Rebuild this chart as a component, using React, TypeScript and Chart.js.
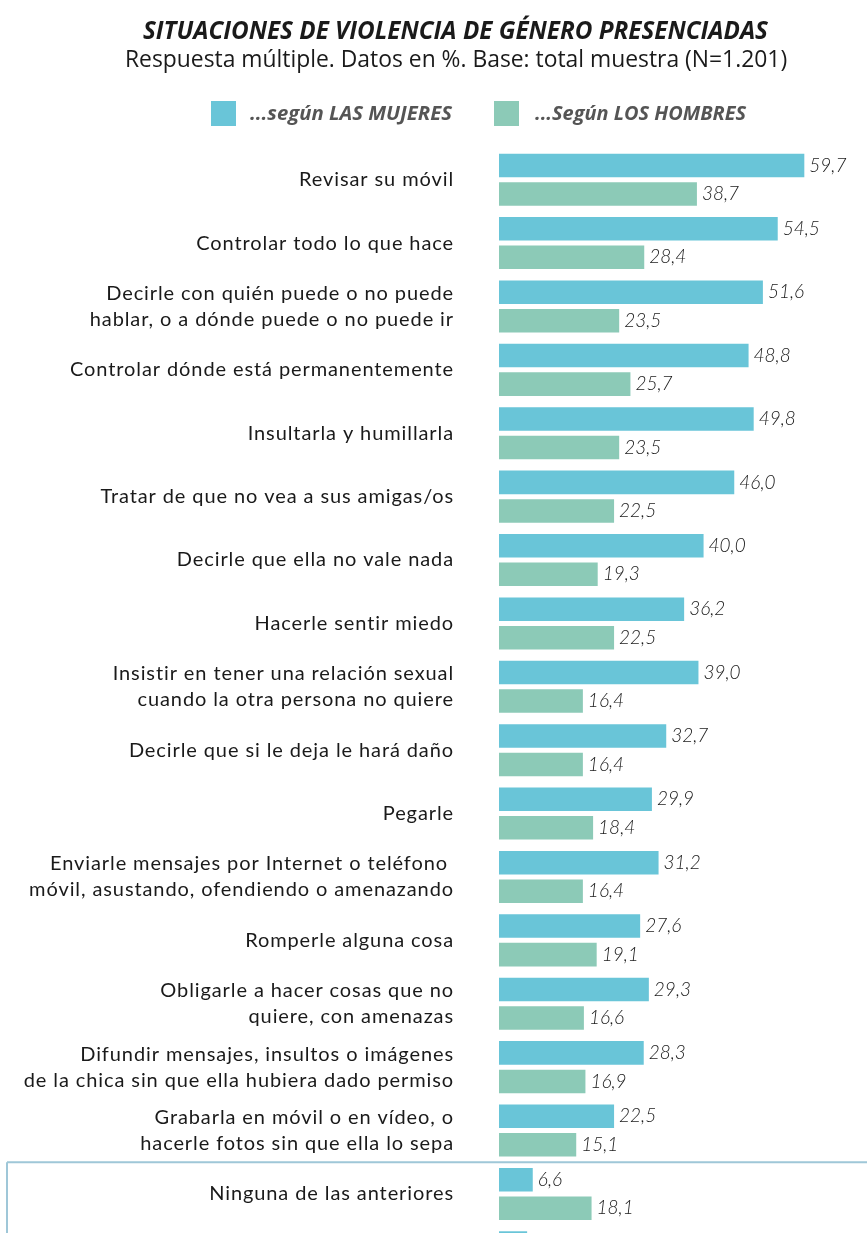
import { useEffect, useRef } from "react";
import { Chart, registerables } from "chart.js";
Chart.register(...registerables);

const titleText = "SITUACIONES DE VIOLENCIA DE GÉNERO PRESENCIADAS";
const subtitleText = "Respuesta múltiple. Datos en %. Base: total muestra (N=1.201)";
const seriesNames = ["...según LAS MUJERES", "...Según LOS HOMBRES"];

const categories: (string | string[])[] = [
  "Revisar su móvil",
  "Controlar todo lo que hace",
  ["Decirle con quién puede o no puede", "hablar, o a dónde puede o no puede ir"],
  "Controlar dónde está permanentemente",
  "Insultarla y humillarla",
  "Tratar de que no vea a sus amigas/os",
  "Decirle que ella no vale nada",
  "Hacerle sentir miedo",
  ["Insistir en tener una relación sexual", "cuando la otra persona no quiere"],
  "Decirle que si le deja le hará daño",
  "Pegarle",
  ["Enviarle mensajes por Internet o teléfono ", "móvil, asustando, ofendiendo o amenazando"],
  "Romperle alguna cosa",
  ["Obligarle a hacer cosas que no", "quiere, con amenazas"],
  ["Difundir mensajes, insultos o imágenes", "de la chica sin que ella hubiera dado permiso"],
  ["Grabarla en móvil o en vídeo, o", "hacerle fotos sin que ella lo sepa"],
  "Ninguna de las anteriores",
  "", // row cut off at the bottom edge of the picture
];

const mujeres: (number | null)[] = [59.7, 54.5, 51.6, 48.8, 49.8, 46.0, 40.0, 36.2, 39.0, 32.7, 29.9, 31.2, 27.6, 29.3, 28.3, 22.5, 6.6, 5.5];
const hombres: (number | null)[] = [38.7, 28.4, 23.5, 25.7, 23.5, 22.5, 19.3, 22.5, 16.4, 16.4, 18.4, 16.4, 19.1, 16.6, 16.9, 15.1, 18.1, null];

const xMax = 70;
const BLUE = "#69C5D8";
const GREEN = "#8CCAB7";
const FONT = "'Open Sans', sans-serif";
const LABEL_FONT = "Lato, sans-serif";

function fitText(ctx: CanvasRenderingContext2D, text: string, style: string, target: number, x: number, y: number) {
  ctx.font = `${style} 20px ${FONT}`;
  const w = ctx.measureText(text).width;
  const size = (20 * target) / w;
  ctx.font = `${style} ${size.toFixed(2)}px ${FONT}`;
  ctx.textAlign = "left";
  ctx.fillText(text, x, y);
}

const overlay = {
  id: "overlay",
  beforeDraw(chart: any) {
    (chart.ctx as any).letterSpacing = "0.9px";
  },
  beforeDatasetsDraw(chart: any) {
    (chart.ctx as any).letterSpacing = "0px";
  },
  afterDatasetsDraw(chart: any) {
    const ctx = chart.ctx as CanvasRenderingContext2D;
    ctx.save();
    ctx.fillStyle = "#1a1a1a";
    ctx.font = `italic 300 19px ${LABEL_FONT}`;
    ctx.textAlign = "left";
    ctx.textBaseline = "middle";
    chart.data.datasets.forEach((ds: any, di: number) => {
      const meta = chart.getDatasetMeta(di);
      meta.data.forEach((bar: any, i: number) => {
        const v = ds.data[i];
        if (v == null) return;
        ctx.fillText(v.toFixed(1).replace(".", ","), bar.x + 5, bar.y);
      });
    });
    ctx.restore();
  },
  afterDraw(chart: any) {
    const ctx = chart.ctx as CanvasRenderingContext2D;
    ctx.save();
    (ctx as any).letterSpacing = "0px";
    ctx.textBaseline = "middle";
    ctx.fillStyle = "#1a1a1a";
    fitText(ctx, titleText, "italic bold", 625, 143, 32);
    fitText(ctx, subtitleText, "normal", 662, 125, 60);
    // legend
    ctx.fillStyle = BLUE;
    ctx.fillRect(211, 101, 25, 25);
    ctx.fillStyle = GREEN;
    ctx.fillRect(494, 101, 25, 25);
    ctx.fillStyle = "#555";
    fitText(ctx, seriesNames[0], "italic bold", 202, 250, 114);
    fitText(ctx, seriesNames[1], "italic bold", 211, 535, 114);
    // box around last rows
    const y = chart.scales.y;
    const yb = (y.getPixelForValue(15) + y.getPixelForValue(16)) / 2;
    ctx.strokeStyle = "#9FC7D8";
    ctx.lineWidth = 2;
    ctx.beginPath();
    ctx.moveTo(7, yb);
    ctx.lineTo(chart.width, yb);
    ctx.moveTo(7, yb);
    ctx.lineTo(7, chart.height);
    ctx.stroke();
    ctx.restore();
  },
};

export default function App() {
  const ref = useRef<HTMLCanvasElement>(null);
  useEffect(() => {
    document.body.style.margin = "0";
    const chart = new Chart(ref.current!, {
      type: "bar",
      data: {
        labels: categories,
        datasets: [
          { label: seriesNames[0], data: mujeres, backgroundColor: BLUE, barPercentage: 0.825, categoryPercentage: 0.9 },
          { label: seriesNames[1], data: hombres, backgroundColor: GREEN, barPercentage: 0.825, categoryPercentage: 0.9 },
        ],
      },
      options: {
        indexAxis: "y",
        responsive: false,
        animation: false,
        layout: { padding: { top: 148, right: 10, bottom: 1, left: 0 } },
        plugins: { legend: { display: false }, title: { display: false }, tooltip: { enabled: false } },
        scales: {
          x: { min: 0, max: xMax, display: false },
          y: {
            grid: { display: false, drawTicks: false },
            border: { display: false },
            ticks: {
              padding: 45,
              color: "#1a1a1a",
              font: { family: LABEL_FONT, size: 20, lineHeight: 1.3 },
              autoSkip: false,
            },
            afterFit(scale: any) {
              scale.width = 499;
              scale.paddingTop = 0;
              scale.paddingBottom = 0;
            },
          },
        },
      },
      plugins: [overlay],
    });
    return () => chart.destroy();
  }, []);
  return (
    <div style={{ width: 867, height: 1233, overflow: "hidden" }}>
      <canvas ref={ref} width={867} height={1290} />
    </div>
  );
}
